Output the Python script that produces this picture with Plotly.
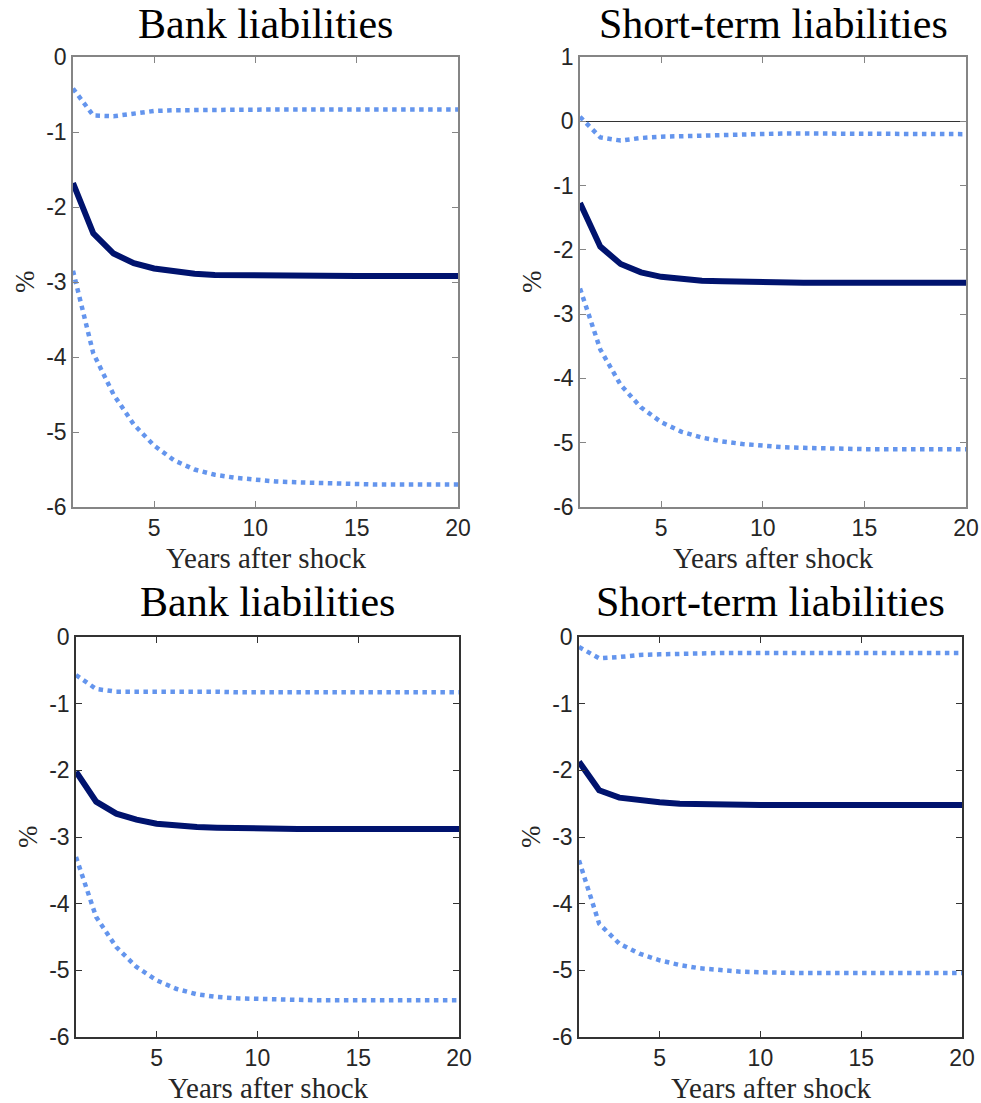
import plotly.graph_objects as go

years = list(range(1, 21))

# Panel 1: Bank liabilities (top)
p1_median = [-1.68, -2.35, -2.62, -2.75, -2.82, -2.86, -2.89, -2.905, -2.91, -2.915,
             -2.92, -2.92, -2.92, -2.92, -2.92, -2.92, -2.92, -2.92, -2.92, -2.92]
p1_upper = [-0.42, -0.78, -0.79, -0.75, -0.72, -0.71, -0.705, -0.70, -0.70, -0.70,
            -0.70, -0.70, -0.70, -0.70, -0.70, -0.70, -0.70, -0.70, -0.70, -0.70]
p1_lower = [-2.85, -3.95, -4.50, -4.90, -5.18, -5.38, -5.50, -5.57, -5.61, -5.64,
            -5.66, -5.67, -5.68, -5.69, -5.70, -5.70, -5.70, -5.70, -5.70, -5.70]

# Panel 2: Short-term liabilities (top)
p2_median = [-1.27, -1.95, -2.22, -2.35, -2.42, -2.46, -2.48, -2.49, -2.50, -2.50,
             -2.51, -2.51, -2.51, -2.51, -2.51, -2.51, -2.51, -2.51, -2.51, -2.51]
p2_upper = [0.07, -0.25, -0.30, -0.26, -0.24, -0.23, -0.22, -0.21, -0.20, -0.19,
            -0.19, -0.19, -0.19, -0.20, -0.20, -0.20, -0.20, -0.20, -0.20, -0.20]
p2_lower = [-2.60, -3.55, -4.10, -4.45, -4.68, -4.83, -4.92, -4.98, -5.02, -5.05,
            -5.07, -5.08, -5.09, -5.10, -5.10, -5.10, -5.10, -5.10, -5.10, -5.10]

# Panel 3: Bank liabilities (bottom)
p3_median = [-2.02, -2.47, -2.65, -2.74, -2.80, -2.83, -2.85, -2.86, -2.87, -2.875,
             -2.88, -2.88, -2.88, -2.88, -2.88, -2.88, -2.88, -2.88, -2.88, -2.88]
p3_upper = [-0.57, -0.78, -0.82, -0.82, -0.81, -0.82, -0.82, -0.82, -0.83, -0.83,
            -0.83, -0.83, -0.83, -0.83, -0.83, -0.83, -0.83, -0.83, -0.83, -0.83]
p3_lower = [-3.30, -4.20, -4.65, -4.95, -5.15, -5.28, -5.36, -5.40, -5.42, -5.43,
            -5.44, -5.44, -5.45, -5.45, -5.45, -5.45, -5.45, -5.45, -5.45, -5.45]

# Panel 4: Short-term liabilities (bottom)
p4_median = [-1.87, -2.30, -2.41, -2.45, -2.48, -2.50, -2.51, -2.51, -2.52, -2.52,
             -2.52, -2.52, -2.52, -2.52, -2.52, -2.52, -2.52, -2.52, -2.52, -2.52]
p4_upper = [-0.15, -0.32, -0.30, -0.27, -0.26, -0.25, -0.25, -0.24, -0.24, -0.24,
            -0.24, -0.24, -0.24, -0.24, -0.24, -0.24, -0.24, -0.24, -0.24, -0.24]
p4_lower = [-3.35, -4.30, -4.60, -4.75, -4.85, -4.92, -4.97, -5.00, -5.02, -5.03,
            -5.04, -5.04, -5.04, -5.04, -5.04, -5.04, -5.04, -5.04, -5.04, -5.04]

titles = ["Bank liabilities", "Short-term liabilities", "Bank liabilities", "Short-term liabilities"]
x_ticks = [5, 10, 15, 20]
y_ticks_a = [0, -1, -2, -3, -4, -5, -6]
y_ticks_b = [1, 0, -1, -2, -3, -4, -5, -6]
x_label = "Years after shock"
y_label = "%"

W, H = 981, 1103
# pixel boxes: (left, right, top, bottom)
boxes = [(73, 458, 57, 507), (580, 966, 57, 507), (76, 459, 637, 1037), (579, 962, 637, 1037)]
title_centers = [24.5, 24.5, 602, 602]
yranges = [(-6, 0), (-6, 1), (-6, 0), (-6, 0)]
ytickv = [y_ticks_a, y_ticks_b, y_ticks_a, y_ticks_a]
axis_cols = ["#858585", "#858585", "#333333", "#333333"]

panels = [(p1_median, p1_upper, p1_lower), (p2_median, p2_upper, p2_lower),
          (p3_median, p3_upper, p3_lower), (p4_median, p4_upper, p4_lower)]

NAVY = "#00136e"
BLUE = "#6495ed"

fig = go.Figure()
annotations = []
for i, (med, up, lo) in enumerate(panels):
    n = i + 1
    xa = "x" if n == 1 else f"x{n}"
    ya = "y" if n == 1 else f"y{n}"
    for s in (up, lo):
        fig.add_trace(go.Scatter(x=years, y=s, mode="lines", xaxis=xa, yaxis=ya,
                                 line=dict(color=BLUE, width=4.5, dash="dot"),
                                 showlegend=False, hoverinfo="skip"))
    fig.add_trace(go.Scatter(x=years, y=med, mode="lines", xaxis=xa, yaxis=ya,
                             line=dict(color=NAVY, width=6),
                             showlegend=False, hoverinfo="skip"))
    l, r, t, b = boxes[i]
    xd = [l / W, r / W]
    yd = [1 - b / H, 1 - t / H]
    col = axis_cols[i]
    xkey = "xaxis" if n == 1 else f"xaxis{n}"
    ykey = "yaxis" if n == 1 else f"yaxis{n}"
    fig.layout[xkey] = dict(domain=xd, anchor=ya, range=[1, 20], tickvals=x_ticks,
                            ticktext=[str(v) for v in x_ticks],
                            ticks="inside", ticklen=6, tickcolor=col, tickwidth=1,
                            showline=True, linecolor=col, linewidth=1.5, mirror="ticks",
                            showgrid=False, zeroline=False,
                            tickfont=dict(family="Liberation Sans", size=23, color="#262626"))
    fig.layout[ykey] = dict(domain=yd, anchor=xa, range=list(yranges[i]), tickvals=ytickv[i],
                            ticktext=[("-" + str(-v)) if v < 0 else str(v) for v in ytickv[i]],
                            ticks="inside", ticklen=6, tickcolor=col, tickwidth=1,
                            showline=True, linecolor=col, linewidth=1.5, mirror="ticks",
                            showgrid=False, zeroline=(n == 2), zerolinecolor="#333333",
                            zerolinewidth=1,
                            tickfont=dict(family="Liberation Sans", size=23, color="#262626"))
    cx = (l + r) / 2 / W
    annotations.append(dict(text=titles[i], xref="paper", yref="paper", x=cx,
                            y=1 - title_centers[i] / H, xanchor="center", yanchor="middle",
                            showarrow=False,
                            font=dict(family="Liberation Serif", size=42, color="#000000")))
    annotations.append(dict(text=x_label, xref="paper", yref="paper", x=cx,
                            y=1 - (b + 51) / H, xanchor="center", yanchor="middle",
                            showarrow=False,
                            font=dict(family="Liberation Serif", size=29, color="#262626")))
    annotations.append(dict(text=y_label, xref="paper", yref="paper", x=(l - 48) / W,
                            y=1 - ((t + b) / 2) / H, xanchor="center", yanchor="middle",
                            textangle=-90, showarrow=False,
                            font=dict(family="Liberation Serif", size=27, color="#262626")))

fig.update_layout(width=W, height=H,
                  margin=dict(l=0, r=0, t=0, b=0, autoexpand=False),
                  paper_bgcolor="white", plot_bgcolor="white",
                  annotations=annotations)
fig.write_html("out.html", config={"displayModeBar": False},
               post_script="document.body.style.margin='0';document.body.style.overflow='hidden';")
